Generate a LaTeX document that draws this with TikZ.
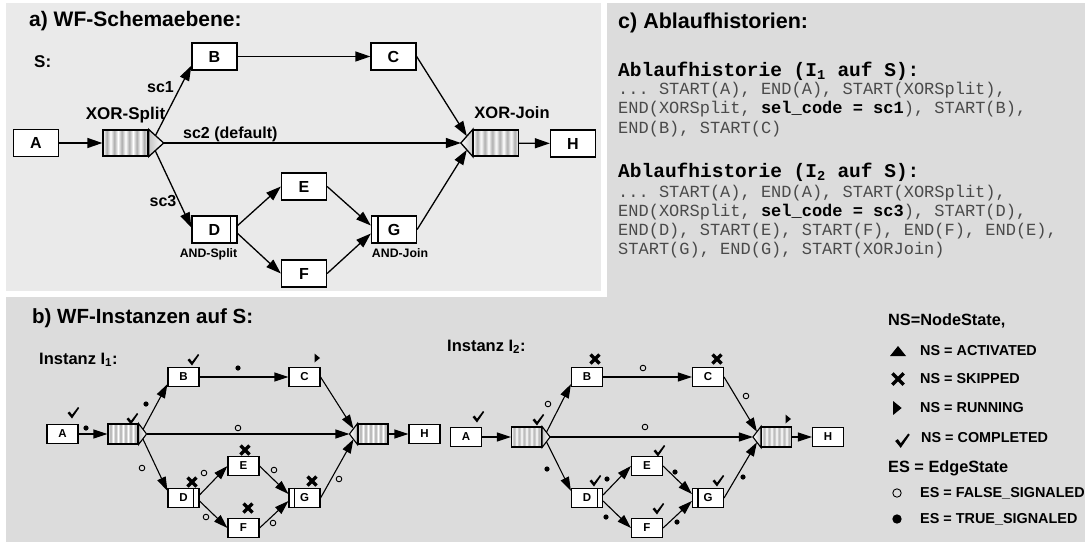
\documentclass[tikz,border=0pt]{standalone}
\usepackage{fontspec}
\setmainfont{Liberation Sans}
\setsansfont{Liberation Sans}
\setmonofont{Liberation Mono}
\usetikzlibrary{arrows.meta,calc}
\pgfdeclarelayer{bg}
\pgfdeclarelayer{edges}
\pgfsetlayers{bg,edges,main}
\definecolor{panelA}{HTML}{EAEAEA}
\definecolor{panelB}{HTML}{DCDCDC}
\definecolor{histgray}{HTML}{4A4A4A}
\colorlet{stripegray}{gray!65}
\pgfdeclarehorizontalshading{stripes}{100bp}{color(0bp)=(white); color(25bp)=(white); color(29.17bp)=(stripegray); color(33.33bp)=(white); color(37.5bp)=(stripegray); color(41.67bp)=(white); color(45.83bp)=(stripegray); color(50bp)=(white); color(54.17bp)=(stripegray); color(58.33bp)=(white); color(62.5bp)=(stripegray); color(66.67bp)=(white); color(70.83bp)=(stripegray); color(75bp)=(white); color(100bp)=(white)}
\newcommand{\fsz}[1]{\fontsize{#1}{#1}\selectfont}

\tikzset{
  bigbox/.style={draw, fill=white, line width=1.3pt, minimum width=45pt, minimum height=27pt, inner sep=0pt, font=\bfseries\fsz{16}},
  smallbox/.style={draw, fill=white, line width=1.1pt, minimum width=31pt, minimum height=19pt, inner sep=0pt, font=\bfseries\fsz{11.5}},
  biggate/.style={draw, line width=1.3pt, shade, shading=stripes, minimum width=45pt, minimum height=26pt, inner sep=0pt},
  smallgate/.style={draw, line width=1.1pt, shade, shading=stripes, minimum width=30pt, minimum height=20pt, inner sep=0pt},
  splittri/.style={draw, line width=#1, left color=gray!45, right color=white},
  jointri/.style={draw, line width=#1, left color=white, right color=gray!45},
  bigedge/.style={line width=1.3pt, -{Triangle[length=15pt,width=10pt]}},
  smalledge/.style={line width=1.1pt, -{Triangle[length=14pt,width=9pt]}},
  lbl/.style={inner sep=0pt, font=\bfseries\fsz{16}},
  slbl/.style={inner sep=0pt, font=\bfseries\fsz{12.3}},
  title/.style={anchor=west, inner sep=0pt, font=\bfseries\fsz{21}},
  hh/.style={anchor=west, inner sep=0pt, font=\ttfamily\bfseries\fsz{19.5}},
  hl/.style={anchor=west, inner sep=0pt, font=\ttfamily\fsz{17}, text=histgray},
  leghead/.style={anchor=west, inner sep=0pt, font=\bfseries\fsz{16.3}},
  legitem/.style={anchor=west, inner sep=0pt, font=\bfseries\fsz{14.4}},
  chk/.pic={\fill (-5.5,0) -- (-3.3,-1.5) -- (-1,1.8) -- (5,-6) -- (6.2,-5) -- (-1,5.5) -- cycle;},
  skp/.pic={\draw[line width=3.4pt] (-4.5,-4.5) -- (4.5,4.5) (-4.5,4.5) -- (4.5,-4.5);},
  run/.pic={\fill (-2.5,-4.5) -- (3,0) -- (-2.5,4.5) -- cycle;},
  act/.pic={\fill (-8,5) -- (0,-5) -- (8,5) -- cycle;},
  tdot/.pic={\fill (0,0) circle (2.6);},
  fdot/.pic={\draw[line width=0.9pt] (0,0) circle (2.8);}
}

\newcommand{\wfinstance}[3]{%
  \begin{scope}[shift={(#2,0)}]
    \node[smallbox] (A#1) at (0,#3) {A};
    \node[smallgate] (XS#1) at (60.5,#3) {};
    \coordinate (XSt#1) at ($(XS#1.east)+(8,0)$);
    \draw[splittri=1.1pt] (XS#1.north east) -- (XSt#1) -- (XS#1.south east) -- cycle;
    \node[smallbox] (B#1) at (121,377) {B};
    \node[smallbox] (C#1) at (242,377) {C};
    \node[smallgate] (XJ#1) at (310.5,#3) {};
    \coordinate (XJt#1) at ($(XJ#1.west)+(-8,0)$);
    \draw[jointri=1.1pt] (XJ#1.north west) -- (XJt#1) -- (XJ#1.south west) -- cycle;
    \node[smallbox] (H#1) at (362,#3) {H};
    \node[smallbox] (E#1) at (181,466) {E};
    \node[smallbox] (D#1) at (121,498) {D\hspace{5pt}};
    \draw[line width=1.1pt] ($(D#1.north east)+(-6,0)$) -- ($(D#1.south east)+(-6,0)$);
    \node[smallbox] (F#1) at (181,528) {F};
    \node[smallbox] (G#1) at (242,498) {G};
    \draw[line width=1.1pt] ($(G#1.north west)+(6,0)$) -- ($(G#1.south west)+(6,0)$);
  \end{scope}
  \begin{pgfonlayer}{edges}
    \draw[smalledge] (A#1) -- (XS#1);
    \draw[smalledge] ($(XS#1.east)+(2,0)$) -- ($(B#1.south west)+(0,-3)$);
    \draw[smalledge] ($(XS#1.east)+(2,0)$) -- ($(D#1.north west)+(0,3)$);
    \draw[smalledge] (XSt#1) -- (XJt#1);
    \draw[smalledge] (B#1) -- (C#1);
    \draw[smalledge] (C#1.east) -- ($(XJ#1.north west)!0.5!(XJt#1)$);
    \draw[smalledge] (G#1.east) -- ($(XJ#1.south west)!0.5!(XJt#1)$);
    \draw[smalledge] (XJ#1) -- (H#1);
    \draw[smalledge] ($(D#1.east)+(0,-3)$) -- (E#1.west);
    \draw[smalledge] ($(D#1.east)+(0,3)$) -- (F#1.west);
    \draw[smalledge] (E#1.east) -- ($(G#1.west)+(0,-4)$);
    \draw[smalledge] (F#1.east) -- ($(G#1.west)+(0,3)$);
  \end{pgfonlayer}
}

\begin{document}
\begin{tikzpicture}[x=1pt,y=-1pt]
\useasboundingbox (0,0) rectangle (1085,542);
\begin{pgfonlayer}{bg}
  \fill[white] (0,0) rectangle (1085,542);
  \fill[panelB] (6,3) rectangle (1085,542);
  \fill[white] (0,0) rectangle (607,297);
  \fill[panelA] (6,3) rectangle (601,291);
\end{pgfonlayer}

% ---------------- panel a ----------------
\node[title] (ta) at (29,21) {a) WF-Schemaebene:};
\node[lbl, anchor=west, font=\bfseries\fsz{17}] (S) at (34,62) {S:};

\node[bigbox] (A) at (36,143) {A};
\node[biggate] (XS) at (125.5,143) {};
\coordinate (XSt) at ($(XS.east)+(15,0)$);
\draw[splittri=1.3pt] (XS.north east) -- (XSt) -- (XS.south east) -- cycle;
\node[bigbox] (B) at (214.5,56.5) {B};
\node[bigbox] (C) at (393.5,56.5) {C};
\node[biggate] (XJ) at (496,143) {};
\coordinate (XJt) at ($(XJ.west)+(-12,0)$);
\draw[jointri=1.3pt] (XJ.north west) -- (XJt) -- (XJ.south west) -- cycle;
\node[bigbox] (H) at (573,143.5) {H};
\node[bigbox] (E) at (304,186.5) {E};
\node[bigbox] (D) at (214.5,229.5) {D\hspace{7pt}};
\draw[line width=1.3pt] ($(D.north east)+(-7,0)$) -- ($(D.south east)+(-7,0)$);
\node[bigbox] (F) at (304,273.5) {F};
\node[bigbox] (G) at (394,229.5) {G};
\draw[line width=1.3pt] ($(G.north west)+(7,0)$) -- ($(G.south west)+(7,0)$);

\node[lbl, font=\bfseries\fsz{17}] (lxs) at (125.5,115) {XOR-Split};
\node[lbl, font=\bfseries\fsz{16.5}] (lxj) at (512,113) {XOR-Join};
\node[lbl] (sc1) at (160.5,87) {sc1};
\node[lbl, anchor=west] (sc2) at (183,134) {sc2 (default)};
\node[lbl] (sc3) at (163,201) {sc3};
\node[slbl] (las) at (208.5,254) {AND-Split};
\node[slbl] (laj) at (400,253) {AND-Join};

\begin{pgfonlayer}{edges}
  \draw[bigedge] (A) -- (XS);
  \draw[bigedge] ($(XS.east)+(3,0)$) -- ($(B.south west)+(0,-5)$);
  \draw[bigedge] ($(XS.east)+(3,0)$) -- ($(D.west)+(0,-2)$);
  \draw[bigedge] (XSt) -- (XJt);
  \draw[bigedge] (B) -- (C);
  \draw[bigedge] (C.east) -- ($(XJ.north west)!0.5!(XJt)$);
  \draw[bigedge] (G.east) -- ($(XJ.south west)!0.5!(XJt)$);
  \draw[bigedge] (XJ) -- (H);
  \draw[bigedge] ($(D.east)+(0,-4)$) -- (E.west);
  \draw[bigedge] ($(D.east)+(0,4)$) -- (F.west);
  \draw[bigedge] (E.east) -- ($(G.west)+(0,-4)$);
  \draw[bigedge] (F.east) -- ($(G.west)+(0,4)$);
\end{pgfonlayer}

% ---------------- panel c ----------------
\node[title, font=\bfseries\fsz{21.5}] (tc) at (618,23) {c) Ablaufhistorien:};
\node[hh] (h1) at (618,71) {Ablaufhistorie (I\textsubscript{1} auf S):};
\node[hl] (l1) at (618,90) {... START(A), END(A), START(XORSplit),};
\node[hl] (l2) at (618,109) {END(XORSplit, \textbf{\color{black}sel\_code = sc1}), START(B),};
\node[hl] (l3) at (618,129) {END(B), START(C)};
\node[hh] (h2) at (618,172) {Ablaufhistorie (I\textsubscript{2} auf S):};
\node[hl] (m1) at (618,193) {... START(A), END(A), START(XORSplit),};
\node[hl] (m2) at (618,212) {END(XORSplit, \textbf{\color{black}sel\_code = sc3}), START(D),};
\node[hl] (m3) at (618,231) {END(D), START(E), START(F), END(F), END(E),};
\node[hl] (m4) at (618,250) {START(G), END(G), START(XORJoin)};

% ---------------- panel b ----------------
\node[title, font=\bfseries\fsz{20.5}] (tb) at (32,318) {b) WF-Instanzen auf S:};
\node[lbl, anchor=west, font=\bfseries\fsz{16.5}] (i1) at (39,360) {Instanz I\textsubscript{1}:};
\node[lbl, anchor=west, font=\bfseries\fsz{16.5}] (i2) at (447,347) {Instanz I\textsubscript{2}:};

\wfinstance{1}{62.5}{434}
\wfinstance{2}{466}{437}

% instance 1 states
\pic at (73,413) {chk};
\pic at (86,428) {tdot};
\pic at (132,419) {chk};
\pic at (146,404) {tdot};
\pic at (193,360) {chk};
\pic at (238,368) {tdot};
\pic at (317,358) {run};
\pic at (238,428) {fdot};
\pic at (142,468) {fdot};
\pic at (192,482) {skp};
\pic at (204,473) {fdot};
\pic at (245,450) {skp};
\pic at (274,470) {fdot};
\pic at (206,517) {fdot};
\pic at (248,508) {skp};
\pic at (273,523) {fdot};
\pic at (312,481) {skp};
\pic at (339,479) {fdot};

% instance 2 states
\pic at (478,417) {chk};
\pic at (538,420) {chk};
\pic at (548,404) {fdot};
\pic at (595,359) {skp};
\pic at (643,368) {fdot};
\pic at (717,359) {skp};
\pic at (746,396) {fdot};
\pic at (645,427) {fdot};
\pic at (788,419) {run};
\pic at (547,469) {tdot};
\pic at (595,481) {chk};
\pic at (607,479) {tdot};
\pic at (659,451) {chk};
\pic at (675,472) {tdot};
\pic at (606,517) {tdot};
\pic at (658,509) {chk};
\pic at (677,522) {tdot};
\pic at (718,481) {chk};
\pic at (743,477) {tdot};

% legend
\node[leghead] (ns) at (888,321) {NS=NodeState,};
\pic at (898,351) {act};
\node[legitem] (nsa) at (920,351) {NS = ACTIVATED};
\pic[scale=1.25] at (898,379) {skp};
\node[legitem] (nss) at (920,379) {NS = SKIPPED};
\pic[scale=1.55] at (897,408) {run};
\node[legitem] (nsr) at (920,408) {NS = RUNNING};
\pic[scale=1.25] at (902,441) {chk};
\node[legitem] (nsc) at (921,438) {NS = COMPLETED};
\node[leghead] (es) at (888,468) {ES = EdgeState};
\pic[scale=1.5] at (897,493) {fdot};
\node[legitem] (esf) at (920,493) {ES = FALSE\_SIGNALED};
\pic[scale=1.8] at (897,519) {tdot};
\node[legitem] (est) at (920,519) {ES = TRUE\_SIGNALED};
\end{tikzpicture}
\end{document}
